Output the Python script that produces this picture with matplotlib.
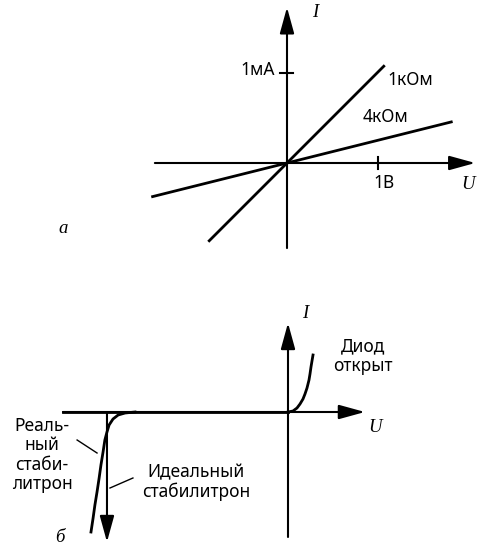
import matplotlib
matplotlib.use("Agg")
import matplotlib.pyplot as plt

# --- (a) linear resistors: I = U / R ---
R_kohm = [1.0, 4.0]                      # resistances, kOhm
U_ends = [[-0.87, 1.08], [-1.5, 1.83]]   # drawn voltage span for each line, V
R_labels = ["1кОм", "4кОм"]

# --- (b) zener diode characteristic ---
U_diode = [0.0, 0.166, 0.298, 0.398, 0.497, 0.563, 0.630, 0.696, 0.729, 0.762, 0.795, 0.829]
I_diode = [0.0, 0.04, 0.16, 0.32, 0.52, 0.72, 0.96, 1.28, 1.52, 1.80, 2.04, 2.28]
U_real = [-5.07, -5.40, -5.63, -5.80, -5.93, -6.0, -6.07, -6.13, -6.20, -6.26, -6.33, -6.40, -6.46, -6.53]
I_real = [0.0, -0.04, -0.12, -0.28, -0.52, -0.80, -1.12, -1.60, -2.12, -2.64, -3.20, -3.72, -4.24, -4.80]
U_zener = -6.0

W, H = 479, 552
fig = plt.figure(figsize=(W / 100, H / 100), dpi=100)

sans = "Noto Sans"
serif = "Liberation Serif"
fs = 12.5
fs_it = 13.5
lw_axis = 1.5
lw_curve = 2.0


def arrow(ax, start, tip):
    ax.annotate("", xy=tip, xytext=start,
                arrowprops=dict(arrowstyle="-|>,head_length=0.8,head_width=0.22",
                                mutation_scale=20, lw=lw_axis, color="black",
                                shrinkA=0, shrinkB=0))


# top panel: origin at (287,163) px, 90.5 px per unit
ax1 = fig.add_axes([0, 1 - 265 / H, 1, 265 / H])
s1 = 90.5
ax1.set_xlim(-287 / s1, (W - 287) / s1)
ax1.set_ylim((163 - 265) / s1, 163 / s1)
ax1.axis("off")

arrow(ax1, (-1.46, 0), (2.08, 0))
arrow(ax1, (0, -0.94), (0, 1.72))
for R, (u0, u1), lab in zip(R_kohm, U_ends, R_labels):
    ax1.plot([u0, u1], [u0 / R, u1 / R], color="black", lw=lw_curve,
             solid_capstyle="butt")
ax1.plot([-0.077, 0.066], [1, 1], color="black", lw=lw_axis)
ax1.plot([1, 1], [-0.066, 0.066], color="black", lw=lw_axis)

ax1.text(-0.13, 1.03, "1мА", ha="right", va="center", fontsize=fs, family=sans)
ax1.text(1.105, 0.92, R_labels[0], ha="left", va="center", fontsize=fs, family=sans)
ax1.text(0.84, 0.51, R_labels[1], ha="left", va="center", fontsize=fs, family=sans)
ax1.text(1.07, -0.22, "1В", ha="center", va="center", fontsize=fs, family=sans)
ax1.text(2.0, -0.24, "U", ha="center", va="center", fontsize=fs_it, family=serif,
         style="italic")
ax1.text(0.31, 1.66, "I", ha="center", va="center", fontsize=fs_it, family=serif,
         style="italic")
ax1.text(-2.475, -0.72, "а", ha="center", va="center", fontsize=fs_it, family=serif,
         style="italic")

# bottom panel: origin at (288,412) px, 30.17 px per V, 25 px per mA
ax2 = fig.add_axes([0, 0, 1, (H - 270) / H])
sx, sy = 30.17, 25.0
ax2.set_xlim(-288 / sx, (W - 288) / sx)
ax2.set_ylim((412 - H) / sy, (412 - 270) / sy)
ax2.axis("off")

arrow(ax2, (-7.46, 0), (2.55, 0))
arrow(ax2, (0, -5.0), (0, 3.56))
ax2.plot([-7.46, 0], [0, 0], color="black", lw=lw_curve)
arrow(ax2, (U_zener, 0), (U_zener, -5.2))
ax2.plot(U_diode, I_diode, color="black", lw=lw_curve)
ax2.plot(U_real, I_real, color="black", lw=lw_curve)

# leader lines
ax2.plot([-6.99, -6.33], [-1.12, -1.64], color="black", lw=1.0)
ax2.plot([-5.90, -5.14], [-3.04, -2.64], color="black", lw=1.0)

ax2.text(2.49, 2.24, "Диод\nоткрыт", ha="center", va="center", fontsize=fs,
         family=sans, linespacing=1.1)
ax2.text(-8.15, -1.72, "Реаль-\nный\nстаби-\nлитрон", ha="center", va="center",
         fontsize=fs, family=sans, linespacing=1.1)
ax2.text(-4.84, -2.8, "Идеальный\nстабилитрон", ha="left", va="center",
         fontsize=fs, family=sans, linespacing=1.1, multialignment="center")
ax2.text(2.88, -0.6, "U", ha="center", va="center", fontsize=fs_it, family=serif,
         style="italic")
ax2.text(0.56, 3.96, "I", ha="center", va="center", fontsize=fs_it, family=serif,
         style="italic")
ax2.text(-7.56, -5.04, "б", ha="center", va="center", fontsize=fs_it, family=serif,
         style="italic")

fig.savefig("out.png", dpi=100)
